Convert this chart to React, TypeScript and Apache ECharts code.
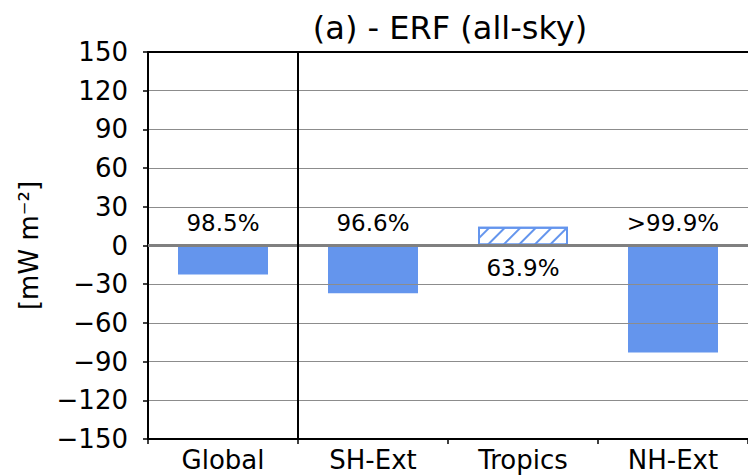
import React, { useEffect, useRef } from 'react';
import * as echarts from 'echarts';

const categories = ['Global', 'SH-Ext', 'Tropics', 'NH-Ext'];
const values = [-22.5, -37, 14.5, -83];
const significance = ['98.5%', '96.6%', '63.9%', '>99.9%'];
const hatched = [false, false, true, false];
const yMin = -150;
const yMax = 150;
const yStep = 30;
const titleText = '(a) - ERF (all-sky)';
const yName = '[mW m\u207B\u00B2]';
// separator between the global bar and the regional bars (category boundary index)
const separatorAt = [1];

export default function App() {
  const ref = useRef<HTMLDivElement>(null);
  useEffect(() => {
    const chart = echarts.init(ref.current!, null, { renderer: 'svg' });
    const font = 'DejaVu Sans';
    const blue = '#6495ED';
    chart.setOption({
      animation: false,
      textStyle: { fontFamily: font },
      grid: { left: 148, top: 52, width: 604, height: 387 },
      graphic: [
        {
          type: 'text',
          x: 450,
          y: 28,
          style: {
            text: titleText,
            fontSize: 32,
            fontFamily: font,
            fill: '#000',
            textAlign: 'center',
            textVerticalAlign: 'middle',
          },
        },
      ],
      xAxis: [
        {
          type: 'category',
          data: categories,
          position: 'bottom',
          axisLine: { onZero: false, lineStyle: { color: '#000', width: 2 } },
          axisTick: { show: true, length: 5, lineStyle: { color: '#000', width: 1.5 } },
          axisLabel: { fontSize: 26, color: '#000', margin: 8, fontFamily: font },
          splitLine: { show: false },
          z: 4,
        },
        {
          type: 'category',
          data: categories,
          position: 'top',
          axisLine: { onZero: false, lineStyle: { color: '#000', width: 2 } },
          axisTick: { show: false },
          axisLabel: { show: false },
          splitLine: { show: false },
          z: 4,
        },
        {
          type: 'value',
          min: 0,
          max: categories.length,
          show: false,
          position: 'bottom',
        },
      ],
      yAxis: {
        type: 'value',
        min: yMin,
        max: yMax,
        interval: yStep,
        z: 3,
        axisLine: { show: true, lineStyle: { color: '#000', width: 2 } },
        axisTick: { show: true, length: 5, lineStyle: { color: '#000', width: 1.5 } },
        axisLabel: {
          fontSize: 26,
          color: '#000',
          margin: 20,
          fontFamily: font,
          formatter: (v: number) => String(v).replace('-', '\u2212'),
        },
        splitLine: { show: true, lineStyle: { color: '#8c8c8c', width: 1.2 } },
        name: yName,
        nameLocation: 'middle',
        nameGap: 106,
        nameRotate: 90,
        nameTextStyle: { fontSize: 26, color: '#000', fontFamily: font },
      },
      series: [
        {
          type: 'bar',
          barWidth: '60%',
          data: values.map((v, i) => ({
            value: v,
            itemStyle: hatched[i]
              ? {
                  color: '#ffffff',
                  borderColor: blue,
                  borderWidth: 2,
                  decal: {
                    symbol: 'rect',
                    symbolSize: 1,
                    color: blue,
                    dashArrayX: [1, 0],
                    dashArrayY: [1.5, 9],
                    rotation: -Math.PI / 4,
                  },
                }
              : { color: blue },
            label: {
              show: true,
              position: v < 0 ? 'top' : 'bottom',
              distance: 11,
              formatter: significance[i],
              fontSize: 23,
              color: '#000',
              fontFamily: font,
            },
          })),
          markLine: {
            silent: true,
            symbol: 'none',
            label: { show: false },
            lineStyle: { color: '#808080', width: 3, type: 'solid' },
            data: [{ yAxis: 0 }],
          },
        },
        {
          type: 'line',
          xAxisIndex: 2,
          data: [],
          silent: true,
          z: 5,
          markLine: {
            silent: true,
            symbol: 'none',
            label: { show: false },
            lineStyle: { color: '#000', width: 2, type: 'solid' },
            data: separatorAt.map((x) => ({ xAxis: x })),
          },
        },
      ],
    });
    return () => chart.dispose();
  }, []);
  return (
    <div
      ref={ref}
      style={{ position: 'fixed', left: 0, top: 0, width: 748, height: 475, background: '#fff' }}
    />
  );
}
